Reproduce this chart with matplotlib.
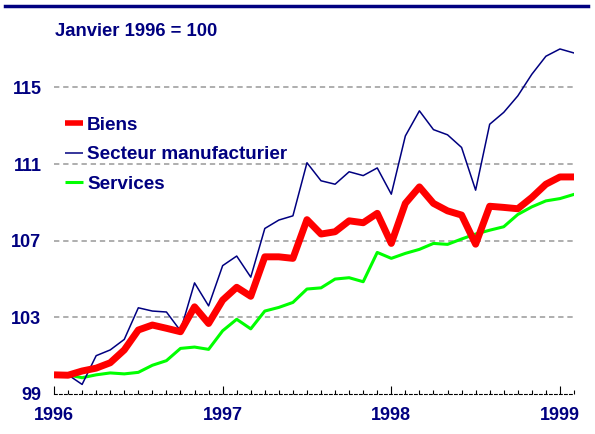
import matplotlib
matplotlib.use("Agg")
import matplotlib.pyplot as plt
from matplotlib.ticker import MultipleLocator
from matplotlib.lines import Line2D

plt.rcParams['font.family'] = ['Liberation Sans', 'DejaVu Sans']

# Monthly data, Jan 1996 .. Feb 1999 (index Jan 1996 = 100)
months = list(range(38))
manufacturier = [100.0, 100.0, 99.5, 101.0, 101.3, 101.85, 103.5, 103.33, 103.28, 102.3,
                 104.8, 103.6, 105.7, 106.2, 105.1, 107.64, 108.08, 108.3, 111.07, 110.13,
                 109.95, 110.6, 110.4, 110.8, 109.43, 112.47, 113.78, 112.8, 112.53, 111.87,
                 109.64, 113.08, 113.7, 114.56, 115.69, 116.63, 117.01, 116.8]
biens = [100.0, 99.98, 100.2, 100.35, 100.63, 101.3, 102.34, 102.6, 102.43, 102.25,
         103.55, 102.68, 103.9, 104.57, 104.1, 106.16, 106.16, 106.08, 108.1, 107.35,
         107.47, 108.04, 107.94, 108.43, 106.86, 108.95, 109.81, 108.95, 108.56, 108.34,
         106.82, 108.8, 108.74, 108.67, 109.26, 109.95, 110.33, 110.33]
services = [100.0, 100.0, 99.85, 100.0, 100.1, 100.05, 100.13, 100.5, 100.74, 101.38,
            101.45, 101.33, 102.3, 102.9, 102.4, 103.33, 103.52, 103.78, 104.48, 104.54,
            105.0, 105.07, 104.86, 106.39, 106.08, 106.34, 106.55, 106.86, 106.81, 107.09,
            107.35, 107.55, 107.73, 108.37, 108.77, 109.08, 109.2, 109.42]
year_labels = ["1996", "1997", "1998", "1999"]
year_positions = [0, 12, 24, 36]
y_ticks = [99, 103, 107, 111, 115]
title = "Janvier 1996 = 100"

NAVY = "#000080"
RED = "#FF0000"
GREEN = "#00FF00"

W, H = 595, 434
fig = plt.figure(figsize=(W / 100, H / 100), dpi=100)
ax_left, ax_right, ax_bot, ax_top = 54, 574, 394, 30
ax = fig.add_axes([ax_left / W, 1 - ax_bot / H, (ax_right - ax_left) / W, (ax_bot - ax_top) / H])

ax.set_xlim(0, 37)
ax.set_ylim(99, 118)

for v in y_ticks[1:]:
    ax.axhline(v, color="#999999", lw=1.1, ls=(0, (3.5, 2.5)), zorder=1)

ax.plot(months, manufacturier, color=NAVY, lw=1.1, zorder=3, label="Secteur manufacturier")
ax.plot(months, services, color=GREEN, lw=2.2, zorder=2, label="Services")
ax.plot(months, biens, color=RED, lw=5.0, zorder=4, label="Biens", solid_capstyle="butt")

for s in ["top", "left", "right"]:
    ax.spines[s].set_visible(False)
ax.spines["bottom"].set_color("black")
ax.spines["bottom"].set_linewidth(0.8)
ax.spines["bottom"].set_linestyle((0, (2.5, 2)))

ax.set_xticks(year_positions)
ax.set_xticklabels(year_labels)
ax.xaxis.set_minor_locator(MultipleLocator(1))
ax.tick_params(axis="x", which="major", direction="in", length=6, width=0.8, color="black",
               pad=9, labelsize=13, labelcolor=NAVY)
ax.tick_params(axis="x", which="minor", direction="in", length=3, width=0.8, color="black")
for lab in ax.get_xticklabels():
    lab.set_fontweight("bold")

ax.set_yticks(y_ticks)
ax.set_yticklabels([str(v) for v in y_ticks])
ax.tick_params(axis="y", length=0, pad=9, labelsize=13, labelcolor=NAVY)
for lab in ax.get_yticklabels():
    lab.set_fontweight("bold")

# Legend
handles = [Line2D([], [], color=RED, lw=4.0, solid_capstyle="butt"),
           Line2D([], [], color=NAVY, lw=1.1, solid_capstyle="butt"),
           Line2D([], [], color=GREEN, lw=2.2, solid_capstyle="butt")]
labels = ["Biens", "Secteur manufacturier", "Services"]
leg = fig.legend(handles, labels, loc="upper left", bbox_to_anchor=(56 / W, 1 - 107 / H),
                 frameon=False, borderpad=0, handlelength=0.95, handletextpad=0.2,
                 labelspacing=0.66, prop={"weight": "bold", "size": 13.6})
for t in leg.get_texts():
    t.set_color(NAVY)

fig.text(55 / W, 1 - 32 / H, title, color=NAVY, fontsize=13.3, fontweight="bold", va="center", ha="left")

# top rule
fig.add_artist(Line2D([5 / W, 588 / W], [1 - 5.5 / H, 1 - 5.5 / H], color=NAVY, lw=2.5))

fig.savefig("out.png", dpi=100)
